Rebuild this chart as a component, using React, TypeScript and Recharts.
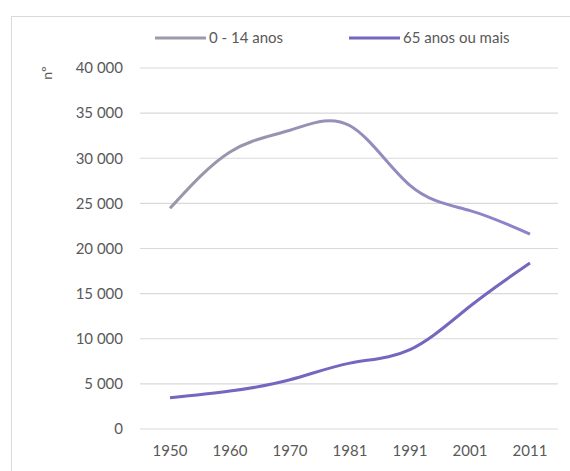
import React from "react";
import { LineChart, Line, XAxis, YAxis, CartesianGrid } from "recharts";

const years = ["1950", "1960", "1970", "1981", "1991", "2001", "2011"];
const young = [24450, 30700, 33100, 33600, 27000, 24200, 21600]; // 0 - 14 anos
const old = [3450, 4200, 5450, 7300, 8800, 13600, 18400]; // 65 anos ou mais
const yTicks = [0, 5000, 10000, 15000, 20000, 25000, 30000, 35000, 40000];

const data = years.map((year, i) => ({ year, young: young[i], old: old[i] }));

const FONT = "Lato, 'Open Sans', sans-serif";
const GRAY = "#9c9aab";
const PURPLE = "#7367bf";

const fmt = (v: number) => v.toString().replace(/\B(?=(\d{3})+(?!\d))/g, " ");

function LegendBox() {
  const items = [
    { label: "0 - 14 anos", color: GRAY, x: 155 },
    { label: "65 anos ou mais", color: PURPLE, x: 349 },
  ];
  return (
    <svg width={570} height={30} style={{ display: "block" }}>
      {items.map((it) => (
        <g key={it.label}>
          <line x1={it.x} x2={it.x + 51} y1={14} y2={14} stroke={it.color} strokeWidth={3} />
          <text x={it.x + 54} y={19} fontSize={15} fill="#595959" fontFamily={FONT}>
            {it.label}
          </text>
        </g>
      ))}
    </svg>
  );
}

export default function App() {
  return (
    <div
      style={{
        position: "fixed",
        left: 0,
        top: 0,
        width: 570,
        height: 471,
        overflow: "hidden",
        background: "#fff",
      }}
    >
      <div
        style={{
          position: "absolute",
          left: 11,
          top: 16,
          width: 620,
          height: 520,
          border: "1px solid #d9d9d9",
        }}
      />
      <div style={{ position: "absolute", left: 0, top: 24 }}>
        <LegendBox />
      </div>
      <svg
        width={30}
        height={30}
        style={{ position: "absolute", left: 34, top: 58 }}
      >
        <text
          x={0}
          y={0}
          transform="translate(18 15) rotate(-90)"
          textAnchor="middle"
          fontSize={14}
          fill="#595959"
          fontFamily={FONT}
        >
          nº
        </text>
      </svg>
      <div style={{ position: "absolute", left: 0, top: 0 }}>
        <LineChart
          width={570}
          height={471}
          data={data}
          margin={{ top: 68, right: 12, bottom: 12, left: 0 }}
        >
          <defs>
            <linearGradient id="youngGrad" x1="0" y1="0" x2="1" y2="0">
              <stop offset="0%" stopColor="#9a98a8" />
              <stop offset="45%" stopColor="#9590b8" />
              <stop offset="100%" stopColor="#8b82cc" />
            </linearGradient>
          </defs>
          <CartesianGrid vertical={false} stroke="#d9d9d9" strokeWidth={1.2} />
          <XAxis
            dataKey="year"
            axisLine={false}
            tickLine={false}
            tickSize={0}
            tickMargin={16}
            height={30}
            padding={{ left: 30, right: 28 }}
            tick={{ fill: "#595959", fontSize: 15, fontFamily: FONT }}
          />
          <YAxis
            domain={[0, 40000]}
            ticks={yTicks}
            tickFormatter={fmt}
            axisLine={false}
            tickLine={false}
            tickSize={0}
            tickMargin={17}
            width={140}
            tick={{ fill: "#595959", fontSize: 15, fontFamily: FONT }}
          />
          <Line
            type="natural"
            dataKey="young"
            name="0 - 14 anos"
            stroke="url(#youngGrad)"
            strokeWidth={3}
            dot={false}
            isAnimationActive={false}
          />
          <Line
            type="natural"
            dataKey="old"
            name="65 anos ou mais"
            stroke={PURPLE}
            strokeWidth={3}
            dot={false}
            isAnimationActive={false}
          />
        </LineChart>
      </div>
    </div>
  );
}
